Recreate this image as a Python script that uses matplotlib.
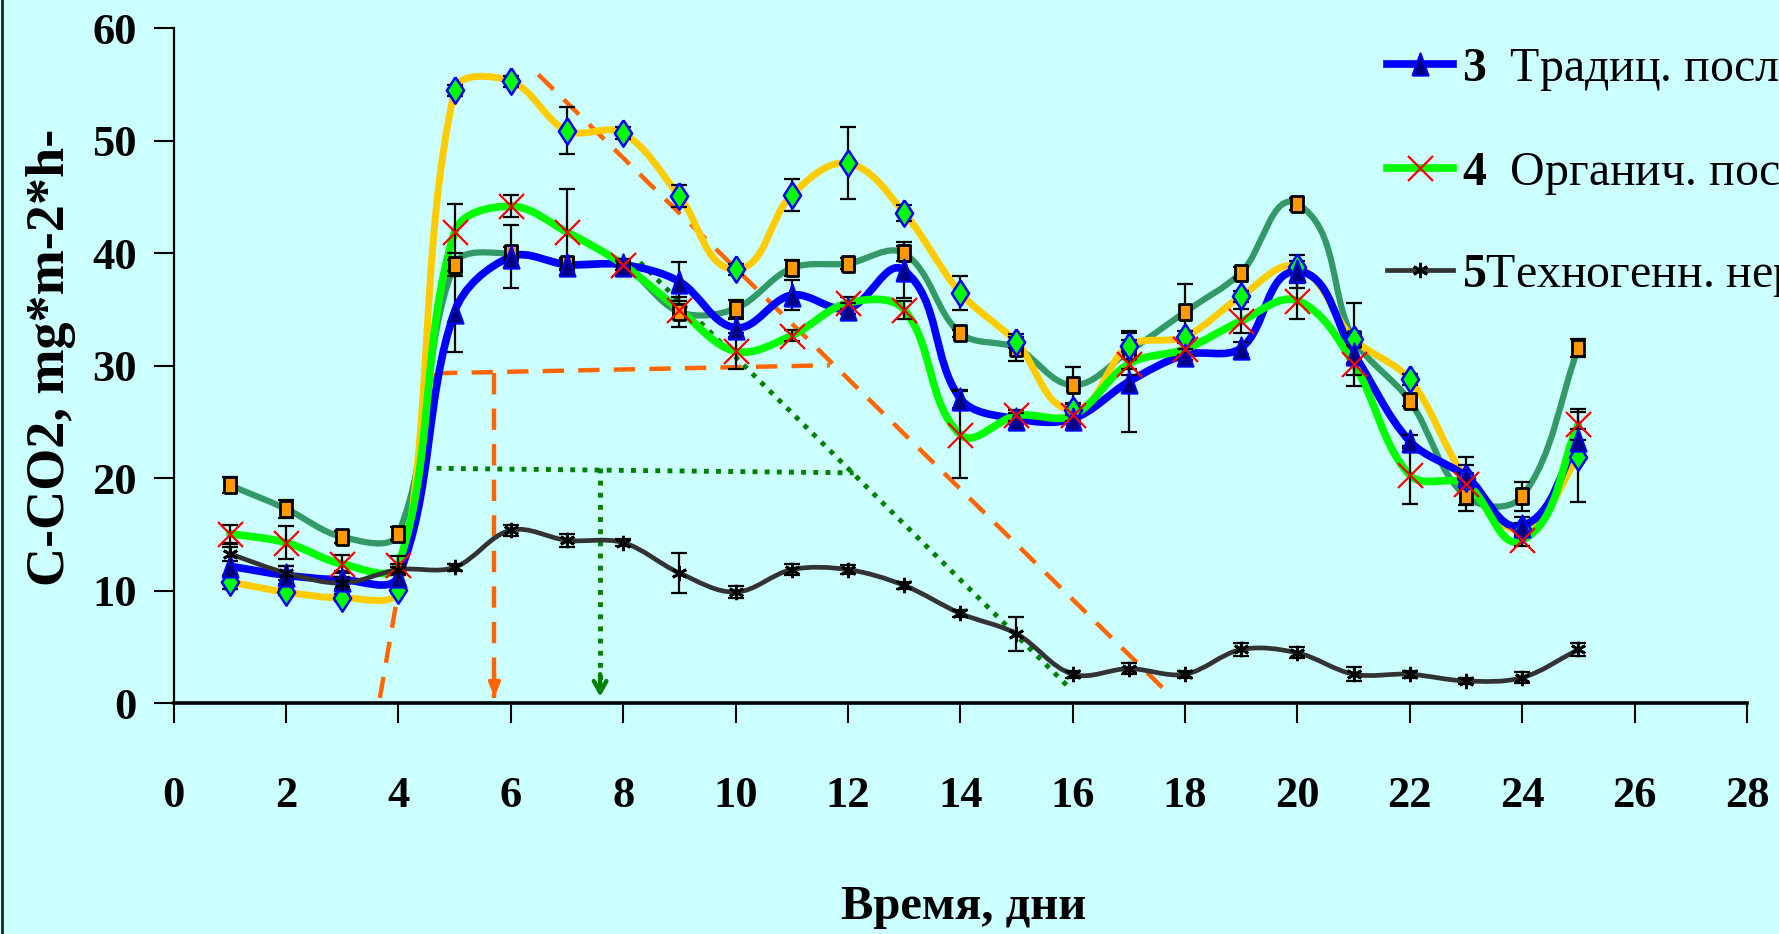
import matplotlib
matplotlib.use("Agg")
import numpy as np
import matplotlib.pyplot as plt
from matplotlib.path import Path
from matplotlib.patches import PathPatch
from matplotlib.lines import Line2D
from matplotlib.font_manager import FontProperties

plt.rcParams['font.family'] = ['Liberation Serif', 'DejaVu Serif']
plt.rcParams['mathtext.fontset'] = 'custom'
plt.rcParams['mathtext.bf'] = 'Liberation Serif:bold'
plt.rcParams['mathtext.rm'] = 'Liberation Serif'

# ---------------- data ----------------
days = list(range(1, 26))

s1_vals = [19.4, 17.3, 14.8, 15.1, 39.0, 40.0, 39.1, 38.8, 34.8, 35.1, 38.7, 39.1, 40.0,
           32.9, 31.6, 28.3, 31.3, 34.8, 38.3, 44.4, 32.4, 26.9, 18.4, 18.4, 31.6]
s1_err = [0.7, 0.8, 0.5, 0.6, 1.0, 0.6, 0.5, 0.5, 1.3, 0.8, 0.7, 0.5, 0.7,
          0.3, 1.2, 1.6, 1.6, 2.5, 0.5, 0.5, 3.2, 0.5, 0.8, 1.3, 0.8]

s2_vals = [10.8, 9.9, 9.4, 10.1, 54.5, 55.3, 50.9, 50.7, 45.1, 38.6, 45.2, 48.0, 43.6,
           36.5, 32.1, 26.1, 31.8, 32.6, 36.2, 38.8, 32.4, 28.8, 20.0, 15.5, 21.9]
s2_err = [0.6, 0.3, 0.3, 0.3, 0.5, 0.5, 2.1, 0.5, 1.0, 0.5, 1.4, 3.2, 0.7,
          1.5, 0.5, 0.5, 0.5, 0.5, 0.5, 0.5, 0.5, 0.5, 0.5, 0.5, 4.0]

s3_vals = [12.2, 11.4, 11.0, 11.3, 34.8, 39.7, 39.0, 39.0, 37.5, 33.4, 36.3, 35.1, 38.5,
           27.1, 25.3, 25.3, 28.6, 31.0, 31.6, 38.4, 31.1, 23.3, 20.2, 15.8, 23.4]
s3_err = [2.0, 0.8, 0.8, 0.8, 3.6, 2.8, 0.5, 0.5, 1.7, 0.8, 1.3, 0.5, 2.5,
          0.8, 0.5, 0.5, 4.5, 0.5, 0.5, 1.5, 0.8, 0.6, 1.0, 0.8, 1.0]

s4_vals = [15.1, 14.3, 12.4, 12.3, 41.9, 44.2, 41.9, 39.0, 35.0, 31.3, 32.7, 35.6, 35.0,
           23.9, 25.6, 25.6, 30.2, 31.5, 34.0, 35.8, 30.2, 20.3, 19.5, 14.5, 24.8]
s4_err = [0.8, 1.5, 0.8, 0.8, 2.5, 1.0, 3.8, 0.5, 0.8, 1.6, 0.5, 0.5, 0.8,
          3.9, 0.5, 0.5, 1.0, 0.5, 1.1, 1.6, 2.0, 2.6, 2.4, 0.5, 1.4]

s5_vals = [13.3, 11.6, 10.7, 11.9, 12.1, 15.4, 14.5, 14.3, 11.6, 9.9, 11.9, 11.9, 10.5,
           8.0, 6.2, 2.6, 3.1, 2.6, 4.8, 4.5, 2.6, 2.6, 2.0, 2.3, 4.8]
s5_err = [0.6, 0.6, 0.5, 0.5, 0.3, 0.5, 0.6, 0.3, 1.8, 0.5, 0.5, 0.4, 0.3,
          0.3, 1.5, 0.3, 0.5, 0.3, 0.6, 0.5, 0.6, 0.3, 0.3, 0.5, 0.6]

legend_labels = [r"$\mathbf{3}$  Традиц. последействие",
                 r"$\mathbf{4}$  Органич. последействие",
                 r"$\mathbf{5}$Техногенн. нерекультивир."]

x_ticks = list(range(0, 29, 2))
y_ticks = list(range(0, 61, 10))
x_title = "Время, дни"
y_title = "C-CO2, mg*m-2*h-"

# annotation guide lines (data coordinates)
orange_rise_x, orange_rise_y = [3.67, 4.67], [0.5, 29.35]
orange_flat_x, orange_flat_y = [4.67, 11.68], [29.35, 30.06]
orange_diag_x, orange_diag_y = [6.49, 17.67], [55.9, 1.05]
orange_drop_x, orange_drop_y = [5.71, 5.71], [29.35, 0.5]
green_flat_x, green_flat_y = [4.68, 12.1], [20.9, 20.5]
green_diag_x, green_diag_y = [8.3, 15.98], [39.2, 1.2]
green_drop_x, green_drop_y = [7.59, 7.59], [20.9, 0.6]

# ---------------- helpers ----------------
def smooth_path(ax, x, y):
    """Excel-like smoothed line: cubic Bezier through the points, tangents
    limited by the adjacent segment length (computed in display space)."""
    pts = ax.transData.transform(np.column_stack([x, y]))
    n = len(pts)
    verts = [pts[0]]
    codes = [Path.MOVETO]
    for i in range(n - 1):
        p0 = pts[i - 1] if i > 0 else pts[i]
        p1, p2 = pts[i], pts[i + 1]
        p3 = pts[i + 2] if i + 2 < n else pts[i + 1]
        seg = np.hypot(*(p2 - p1))
        t1 = p2 - p0
        t1 = t1 / np.hypot(*t1)
        t2 = p3 - p1
        t2 = t2 / np.hypot(*t2)
        c1 = p1 + t1 * seg / 3.0
        c2 = p2 - t2 * seg / 3.0
        verts += [c1, c2, p2]
        codes += [Path.CURVE4] * 3
    verts = ax.transData.inverted().transform(np.array(verts))
    return Path(verts, codes)

sq_marker = [(-0.75, -1), (0.75, -1), (0.75, 1), (-0.75, 1), (-0.75, -1)]
dia_marker = [(0, 1), (0.65, 0), (0, -1), (-0.65, 0), (0, 1)]
tri_marker = [(-0.72, -1), (0.72, -1), (0, 1), (-0.72, -1)]
star_marker = (6, 2, 0)

series = [
    dict(v=s1_vals, e=s1_err, lc='#339966', lw=4.5, m=sq_marker, ms=12, mfc='#FF9900', mec='black', mew=2.0),
    dict(v=s2_vals, e=s2_err, lc='#FFCC00', lw=5.0, m=dia_marker, ms=19, mfc='#00FF00', mec='#0000FF', mew=1.8),
    dict(v=s3_vals, e=s3_err, lc='#0000FF', lw=5.5, m=tri_marker, ms=16, mfc='#000080', mec='#0000FF', mew=1.5),
    dict(v=s4_vals, e=s4_err, lc='#00FF00', lw=5.5, m='x', ms=18, mfc='#FF0000', mec='#FF0000', mew=1.6),
    dict(v=s5_vals, e=s5_err, lc='#333333', lw=3.4, m=star_marker, ms=11, mfc='black', mec='black', mew=2.0),
]

# ---------------- figure ----------------
bg = '#CCFFFF'
fig = plt.figure(figsize=(17.79, 9.34), dpi=100, facecolor=bg)
ax = fig.add_axes([0.0976, 0.2468, 0.8844, 0.7228])
ax.set_facecolor(bg)
ax.set_xlim(0, 28)
ax.set_ylim(0, 60)

orange = '#FF6600'
dgreen = '#008000'
dash = (0, (4.8, 3.2))
dots = (0, (1.0, 1.5))
for xs, ys in [(orange_rise_x, orange_rise_y), (orange_flat_x, orange_flat_y),
               (orange_diag_x, orange_diag_y), (orange_drop_x, orange_drop_y)]:
    ax.plot(xs, ys, color=orange, lw=3.2, ls=dash, zorder=1.5)
ax.annotate('', xy=(orange_drop_x[1], orange_drop_y[1]), xytext=(orange_drop_x[1], orange_drop_y[1] + 2.2),
            arrowprops=dict(arrowstyle='-|>,head_length=0.9,head_width=0.35', color=orange, lw=2.5,
                            shrinkA=0, shrinkB=0), zorder=1.5)
for xs, ys in [(green_flat_x, green_flat_y), (green_diag_x, green_diag_y), (green_drop_x, green_drop_y)]:
    ax.plot(xs, ys, color=dgreen, lw=3.5, ls=dots, zorder=1.5)
ax.annotate('', xy=(green_drop_x[1], green_drop_y[1]), xytext=(green_drop_x[1], green_drop_y[1] + 2.0),
            arrowprops=dict(arrowstyle='->,head_length=0.8,head_width=0.45', color=dgreen, lw=3.2,
                            shrinkA=0, shrinkB=0), zorder=1.5)

# lines (smoothed like the original)
for i, s in enumerate(series):
    ax.add_patch(PathPatch(smooth_path(ax, days, s['v']), fill=False, edgecolor=s['lc'], lw=s['lw'],
                           capstyle='round', joinstyle='round', zorder=2 + i * 0.01))
# error bars
for s in series:
    ax.errorbar(days, s['v'], yerr=s['e'], fmt='none', ecolor='black', elinewidth=1.6,
                capsize=5.5, capthick=1.6, zorder=3)
# markers
for i, s in enumerate(series):
    ax.plot(days, s['v'], ls='none', marker=s['m'], ms=s['ms'], mfc=s['mfc'], mec=s['mec'],
            mew=s['mew'], zorder=4 + i * 0.01)

# axes styling
for side in ('top', 'right'):
    ax.spines[side].set_visible(False)
ax.spines['left'].set_linewidth(1.6)
ax.spines['bottom'].set_linewidth(2.6)
ax.set_xticks(x_ticks)
ax.set_yticks(y_ticks)
ax.tick_params(axis='both', direction='out', length=14.4, width=1.5, color='black')
ax.tick_params(axis='x', pad=38, labelsize=32)
ax.tick_params(axis='y', pad=12, labelsize=32)
for lab in ax.get_xticklabels() + ax.get_yticklabels():
    lab.set_fontweight('bold')

ax.set_xlabel(x_title, fontsize=35, fontweight='bold')
ax.xaxis.label.set_va('center')
ax.xaxis.set_label_coords(0.502, -0.3015)
ax.set_ylabel(y_title, fontsize=39, fontweight='bold')
ax.yaxis.label.set_va('center')
ax.yaxis.set_label_coords(-0.0779, 0.513)

# legend
handles = []
for s in series[2:]:
    handles.append(Line2D([], [], color=s['lc'], lw=s['lw'], marker=s['m'], ms=s['ms'],
                          mfc=s['mfc'], mec=s['mec'], mew=s['mew']))
leg = ax.legend(handles, legend_labels, loc='upper left', bbox_to_anchor=(0.7797, 0.952),
                bbox_transform=fig.transFigure, frameon=False, borderpad=0, borderaxespad=0,
                handlelength=1.375, handletextpad=0.18, labelspacing=1.17,
                prop=FontProperties(family='Liberation Serif', size=34.5))

# left frame edge
fig.add_artist(Line2D([0.0012, 0.0012], [0, 1], transform=fig.transFigure, color='#222222', lw=2))

fig.savefig('out.png', dpi=100, facecolor=bg)
